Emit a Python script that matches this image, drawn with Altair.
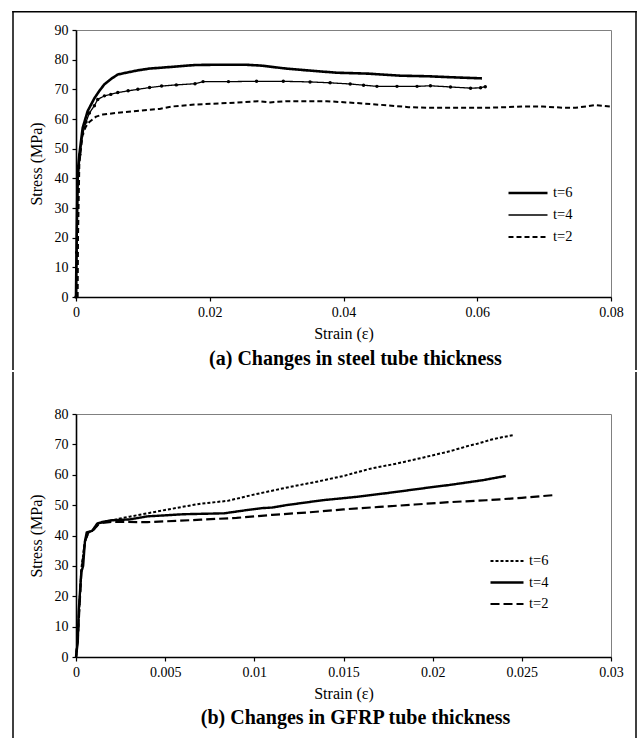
import altair as alt
import pandas as pd

FONT = "Liberation Serif"
SERIES = ["t=6", "t=4", "t=2"]

# ---------------- panel (a): steel tube thickness ----------------
a_t6_strain = [0, 0.0001, 0.00025, 0.0005, 0.001, 0.00175, 0.00275, 0.0035, 0.00425, 0.0053,
               0.00625, 0.0075, 0.00925, 0.011, 0.0128, 0.015, 0.0178, 0.0215, 0.0253, 0.0277,
               0.0314, 0.0345, 0.039, 0.0436, 0.0485, 0.0527, 0.0558, 0.0607]
a_t6_stress = [0, 20, 42, 48, 57, 62.7, 67, 69.5, 71.7, 73.6,
               75, 75.6, 76.4, 77, 77.3, 77.7, 78.2, 78.3, 78.3, 78,
               77, 76.4, 75.6, 75.3, 74.6, 74.4, 74.1, 73.7]

a_t4_strain = [0, 0.0001, 0.0003, 0.0006, 0.001, 0.0015, 0.002, 0.00275, 0.00325, 0.00425,
               0.0052, 0.00625, 0.0078, 0.00925, 0.011, 0.0128, 0.015, 0.0178, 0.019, 0.0228,
               0.027, 0.031, 0.035, 0.038, 0.041, 0.043, 0.045, 0.048, 0.051, 0.053,
               0.056, 0.059, 0.0605, 0.0612]
a_t4_stress = [0, 15, 38, 48, 55, 59, 62, 64.5, 66.6, 67.8,
               68.3, 68.9, 69.5, 70, 70.6, 71.1, 71.5, 71.9, 72.6, 72.6,
               72.7, 72.7, 72.5, 72.2, 71.8, 71.4, 71, 71, 71, 71.2,
               70.8, 70.4, 70.5, 70.9]

a_t2_strain = [0.00025, 0.0003, 0.0005, 0.001, 0.0015, 0.002, 0.003, 0.004, 0.007, 0.0125,
               0.0143, 0.018, 0.0229, 0.0271, 0.029, 0.0314, 0.0375, 0.0418, 0.0466, 0.0497,
               0.0527, 0.0619, 0.0668, 0.0698, 0.0729, 0.0747, 0.0765, 0.0777, 0.08]
a_t2_stress = [0, 20, 45, 55, 57.5, 59, 60.8, 61.5, 62.3, 63.4,
               64.2, 64.9, 65.4, 66, 65.6, 66, 66, 65.4, 64.6, 64,
               63.8, 63.8, 64.2, 64.2, 63.8, 63.8, 64.3, 64.7, 64.2]

a_x_ticks = [0, 0.02, 0.04, 0.06, 0.08]
a_y_ticks = [0, 10, 20, 30, 40, 50, 60, 70, 80, 90]
a_caption = "(a) Changes in steel tube thickness"

# ---------------- panel (b): GFRP tube thickness ----------------
b_t6_strain = [0, 0.0001, 0.0002, 0.0003, 0.0005, 0.0007, 0.001, 0.0013, 0.002, 0.003,
               0.005, 0.007, 0.0085, 0.01, 0.012, 0.0135, 0.015, 0.0165, 0.018, 0.0195,
               0.021, 0.022, 0.0225, 0.0233, 0.024, 0.0245]
b_t6_stress = [0, 6, 18, 29, 38, 41, 42, 44, 45, 46.2,
               48.4, 50.5, 51.4, 53.5, 56, 57.7, 59.6, 62, 63.7, 65.7,
               67.8, 69.5, 70.2, 71.6, 72.5, 73]

b_t4_strain = [0, 0.0001, 0.00015, 0.0003, 0.0004, 0.0005, 0.0006, 0.0009, 0.0012, 0.0015,
               0.002, 0.003, 0.004, 0.0049, 0.006, 0.0083, 0.0095, 0.0104, 0.011, 0.0118,
               0.0138, 0.0157, 0.0175, 0.0198, 0.0209, 0.0228, 0.0241]
b_t4_stress = [0, 5, 15, 28, 30, 38, 41, 41.5, 44, 44.5,
               45, 45.3, 46.3, 46.6, 47, 47.3, 48.3, 49, 49.2, 50,
               51.6, 52.7, 54, 55.8, 56.6, 58.2, 59.6]

b_t2_strain = [0, 0.0001, 0.0002, 0.0003, 0.0005, 0.0007, 0.001, 0.0013, 0.002, 0.004,
               0.007, 0.009, 0.011, 0.013, 0.015, 0.017, 0.019, 0.021, 0.023, 0.025, 0.0268]
b_t2_stress = [0, 6, 17, 28, 38, 41, 42, 44, 44.5, 44.4,
               45.2, 45.8, 46.8, 47.6, 48.6, 49.4, 50.2, 51.0, 51.6, 52.4, 53.3]

b_x_ticks = [0, 0.005, 0.01, 0.015, 0.02, 0.025, 0.03]
b_y_ticks = [0, 10, 20, 30, 40, 50, 60, 70, 80]
b_caption = "(b) Changes in GFRP tube thickness"


def make_df(parts):
    rows = []
    for name, xs, ys in parts:
        for x, y in zip(xs, ys):
            rows.append({"series": name, "strain": x, "stress": y})
    return pd.DataFrame(rows)


df_a = make_df([("t=6", a_t6_strain, a_t6_stress),
                ("t=4", a_t4_strain, a_t4_stress),
                ("t=2", a_t2_strain, a_t2_stress)])
df_b = make_df([("t=6", b_t6_strain, b_t6_stress),
                ("t=4", b_t4_strain, b_t4_stress),
                ("t=2", b_t2_strain, b_t2_stress)])

W = 535
ONE = alt.Data(values=[{"k": 1}])
FL, FR = -63.75, W + 24.25   # frame line left edges (1.5 px wide filled rects)


def frame_rects(h_top, h_bottom, with_top):
    parts = [
        alt.Chart(ONE).mark_rect(color="black", strokeWidth=0).encode(
            x=alt.value(FL), x2=alt.value(FL + 1.5),
            y=alt.value(h_top), y2=alt.value(h_bottom)),
        alt.Chart(ONE).mark_rect(color="black", strokeWidth=0).encode(
            x=alt.value(FR), x2=alt.value(FR + 1.5),
            y=alt.value(h_top), y2=alt.value(h_bottom)),
    ]
    if with_top:
        parts.append(alt.Chart(ONE).mark_rect(color="black", strokeWidth=0).encode(
            x=alt.value(FL), x2=alt.value(FR + 1.5),
            y=alt.value(h_top), y2=alt.value(h_top + 1.5)))
    return parts


def panel(df, xmax, xticks, ymax, yticks, dashes, widths, caption, cap_y, h,
          lx, ly, sym_len, row_pad, markers, frame):
    leg = alt.Legend(title=None, orient="none", legendX=lx, legendY=ly,
                     symbolType="stroke", symbolSize=sym_len * sym_len,
                     symbolStrokeColor="black", symbolOffset=0, clipHeight=14,
                     labelFont=FONT, labelFontSize=14.5, labelColor="black",
                     labelOffset=4, rowPadding=row_pad, padding=0)
    X = alt.X("strain:Q", scale=alt.Scale(domain=[0, xmax], nice=False, zero=True),
              axis=alt.Axis(values=xticks, format="~g", title="Strain (ε)",
                            labelFlush=False, labelPadding=4, titlePadding=6))
    Y = alt.Y("stress:Q", scale=alt.Scale(domain=[0, ymax], nice=False),
              axis=alt.Axis(values=yticks, title="Stress (MPa)",
                            labelPadding=4, titlePadding=10))
    lines = alt.Chart(df).mark_line(color="black", strokeCap="butt",
                                    strokeJoin="round").encode(
        x=X, y=Y,
        strokeDash=alt.StrokeDash("series:N",
                                  scale=alt.Scale(domain=SERIES, range=dashes),
                                  legend=leg),
        strokeWidth=alt.StrokeWidth("series:N",
                                    scale=alt.Scale(type="ordinal", domain=SERIES,
                                                    range=widths),
                                    legend=leg),
    )
    layers = [lines]
    if markers:
        layers.append(alt.Chart(df).transform_filter(alt.datum.series == "t=4")
                      .mark_circle(color="black", size=12, opacity=1)
                      .encode(x=X, y=Y))
    layers.append(alt.Chart(ONE).mark_text(
        font=FONT, fontSize=20, fontWeight="bold", color="black",
        align="center", baseline="middle").encode(
        x=alt.value(W / 2 + 12), y=alt.value(cap_y), text=alt.value(caption)))
    layers += frame
    return alt.layer(*layers).properties(width=W, height=h).resolve_scale(
        strokeDash="independent", strokeWidth="independent")


top = panel(df_a, 0.08, a_x_ticks, 90, a_y_ticks,
            [[1, 0], [1, 0], [5, 3]], [2.6, 1.3, 2.0],
            a_caption, 329, 267,
            431, 156, 39, 7, True, frame_rects(-19, 340, True))

bottom = panel(df_b, 0.03, b_x_ticks, 80, b_y_ticks,
               [[3, 2], [1, 0], [9, 4]], [2.0, 2.4, 2.2],
               b_caption, 304, 243,
               413, 140, 33, 6.5, False, frame_rects(-42, 324, False))

chart = alt.vconcat(top, bottom, spacing=0).resolve_scale(
    strokeDash="independent", strokeWidth="independent"
).resolve_legend(
    strokeDash="independent", strokeWidth="independent"
).properties(
    padding={"left": 11, "top": 10, "right": 0, "bottom": 0},
    background="white",
).configure_view(
    stroke="#808080", strokeWidth=1
).configure_axis(
    grid=False, domainColor="black", domainWidth=1.6,
    tickColor="black", tickSize=4, tickWidth=1.2,
    labelFont=FONT, labelFontSize=14, labelColor="black",
    titleFont=FONT, titleFontSize=16, titleFontWeight="normal", titleColor="black",
)

chart.save("out.html", embed_options={"renderer": "svg", "actions": False})
